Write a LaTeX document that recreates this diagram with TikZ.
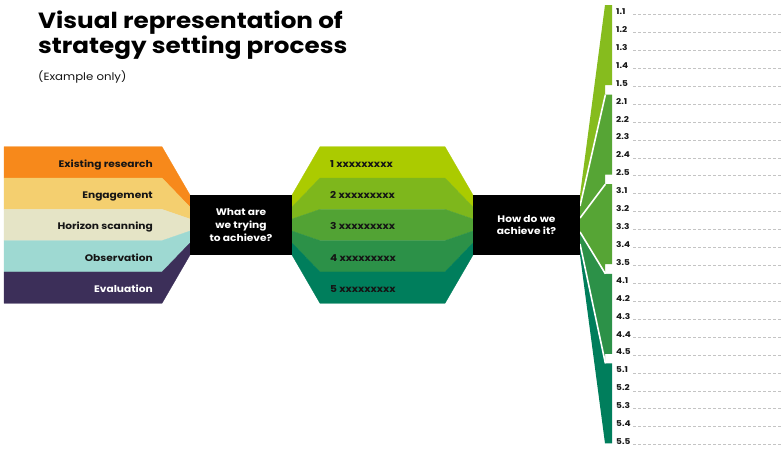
\documentclass[tikz,border=0pt]{standalone}
\usepackage{fontspec}
\usepackage{graphicx}
\setmainfont{Poppins}
\newcommand{\wx}[1]{\scalebox{1.12}[1]{#1}}
\definecolor{cOr}{HTML}{F7891B}
\definecolor{cYe}{HTML}{F4CF6F}
\definecolor{cBe}{HTML}{E5E4C6}
\definecolor{cTe}{HTML}{9ED9D2}
\definecolor{cPu}{HTML}{3C2F59}
\definecolor{gA}{HTML}{ABCB00}
\definecolor{gB}{HTML}{7EB71C}
\definecolor{gC}{HTML}{52A334}
\definecolor{gD}{HTML}{2C9148}
\definecolor{gE}{HTML}{007E5C}
\definecolor{fA}{HTML}{86BC1E}
\definecolor{fC}{HTML}{56A535}
\definecolor{dashgray}{HTML}{C4C4C4}
\definecolor{ink}{HTML}{151515}
\tikzset{
  lbl/.style={inner sep=0pt, text=ink, font=\bfseries\fontsize{9.5}{11}\selectfont},
  boxtxt/.style={fill=black, text=white, align=center, inner sep=0pt,
    font=\bfseries\fontsize{9.5}{12.7}\selectfont},
  item/.style={inner sep=0pt, anchor=base west, text=ink, font=\bfseries\fontsize{8}{9}\selectfont},
  dashline/.style={dashgray, line width=0.6pt, dash pattern=on 2.5pt off 2.5pt},
  band/.style={line width=0.3pt},
  sep/.style={white, line width=1.6pt}
}
\begin{document}
\begin{tikzpicture}[x=1pt,y=-1pt]
\useasboundingbox[fill=white] (0,0) rectangle (781,448);

% title
\node[inner sep=0pt, anchor=base west, font=\bfseries\fontsize{22}{25}\selectfont] (t1) at (38,28.3) {\wx{Visual representation of}};
\node[inner sep=0pt, anchor=base west, font=\bfseries\fontsize{22}{25}\selectfont] (t2) at (38,53.3) {\wx{strategy setting process}};
\node[inner sep=0pt, anchor=base west, text=ink, font=\fontsize{10.5}{12}\selectfont] (sub) at (38,80) {\wx{(Example only)}};

% left funnel and green hexagon bands
\foreach \i/\col/\hcol in {0/cOr/gA,1/cYe/gB,2/cBe/gC,3/cTe/gD,4/cPu/gE}{
  \pgfmathsetmacro\ta{146.7+31.32*\i}
  \pgfmathsetmacro\tb{146.7+31.32*(\i+1)}
  \pgfmathsetmacro\ca{195+12*\i}
  \pgfmathsetmacro\cb{195+12*(\i+1)}
  \path[band, fill=\col, draw=\col] (4,\ta) -- (162,\ta) -- (190,\ca) -- (190,\cb) -- (162,\tb) -- (4,\tb) -- cycle;
  \path[band, fill=\hcol, draw=\hcol] (292,\ca) -- (320,\ta) -- (445,\ta) -- (473,\ca) -- (473,\cb) -- (445,\tb) -- (320,\tb) -- (292,\cb) -- cycle;
}

% right fan
\path[fill=fA] (580,195) -- (605,5) -- (612,5) -- (612,85) -- (605,85) -- (605,94.6) -- (580,206) -- cycle;
\path[fill=fC] (580,206) -- (605,94.6) -- (612,94.6) -- (612,174.6) -- (605,174.6) -- (605,184.2) -- (580,218) -- cycle;
\path[fill=fC] (580,218) -- (605,184.2) -- (612,184.2) -- (612,264.2) -- (605,264.2) -- (605,273.8) -- (580,232) -- cycle;
\path[fill=gD] (580,232) -- (605,273.8) -- (612,273.8) -- (612,353.8) -- (605,353.8) -- (605,363.4) -- (580,244) -- cycle;
\path[fill=gE] (580,244) -- (605,363.4) -- (612,363.4) -- (612,443.4) -- (605,443.4) -- (580,255) -- cycle;
\draw[sep] (580,206) -- (605.4,94.6);
\draw[sep] (580,218) -- (605.4,184.2);
\draw[sep] (580,232) -- (605.4,273.8);
\draw[sep] (580,244) -- (605.4,363.4);

% black boxes
\node[boxtxt, minimum width=102pt, minimum height=60pt] (q1) at (241,225) {\wx{What are}\\\wx{we trying}\\\wx{to achieve?}};
\node[boxtxt, minimum width=107pt, minimum height=60pt] (q2) at (526.5,225) {\wx{How do we}\\\wx{achieve it?}};

% left labels
\node[lbl, anchor=base east] (l1) at (153,167.4) {\wx{Existing research}};
\node[lbl, anchor=base east] (l2) at (153,198.8) {\wx{Engagement}};
\node[lbl, anchor=base east] (l3) at (153,229.9) {\wx{Horizon scanning}};
\node[lbl, anchor=base east] (l4) at (153,261.0) {\wx{Observation}};
\node[lbl, anchor=base east, text=white] (l5) at (153,292.5) {\wx{Evaluation}};

% hexagon labels
\node[lbl, anchor=base west] (h1) at (330,167.4) {\wx{1 xxxxxxxxx}};
\node[lbl, anchor=base west] (h2) at (330,198.8) {\wx{2 xxxxxxxxx}};
\node[lbl, anchor=base west] (h3) at (330,229.9) {\wx{3 xxxxxxxxx}};
\node[lbl, anchor=base west] (h4) at (330,261.0) {\wx{4 xxxxxxxxx}};
\node[lbl, anchor=base west] (h5) at (330,292.5) {\wx{5 xxxxxxxxx}};

% sub items
\foreach \k in {1,...,5}{
  \foreach \j in {1,...,5}{
    \pgfmathsetmacro\yy{14.5+17.92*(5*(\k-1)+\j-1)}
    \node[item] (it\k\j) at (616,\yy) {\wx{\k.\j}};
    \coordinate (e\k\j) at (781,\yy);
    \draw[dashline] (633,\yy) -- (e\k\j);
  }
}
\end{tikzpicture}
\end{document}
